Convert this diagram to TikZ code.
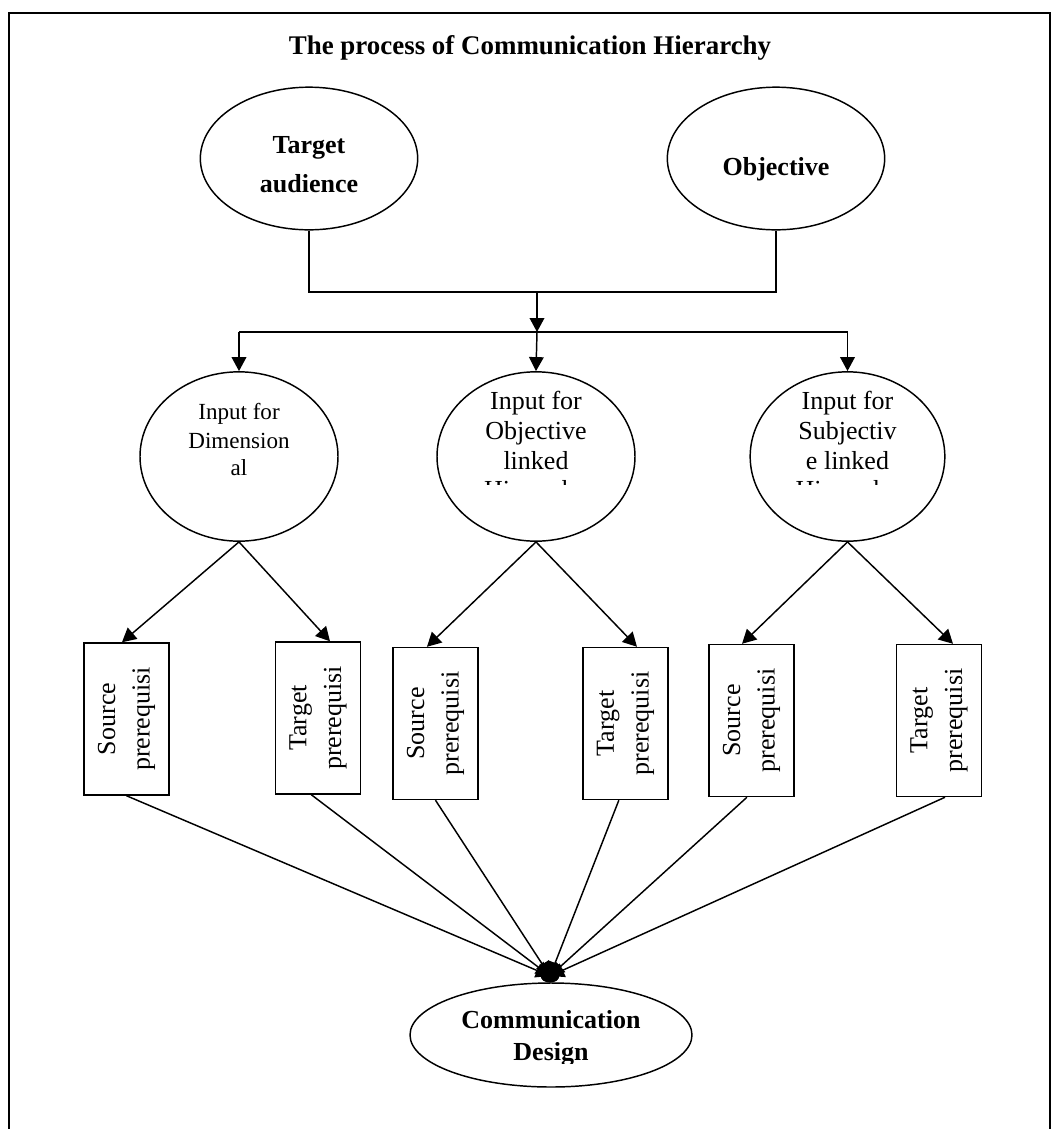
\documentclass[tikz,border=0pt]{standalone}
\usepackage{fontspec}
\setmainfont{Liberation Serif}
\usetikzlibrary{shapes.geometric,arrows.meta}
\begin{document}
\begin{tikzpicture}[x=0.75pt,y=-0.75pt,line width=1.1pt,
  arr/.style={-{Triangle[length=10.5pt,width=11pt]}},
  ellbox/.style={draw,ellipse,inner sep=0pt},
  topell/.style={ellbox,minimum width=163pt,minimum height=107pt},
  midell/.style={ellbox,minimum width=148.5pt,minimum height=127pt},
  prbox/.style={draw,rectangle,inner sep=0pt,minimum width=64pt,minimum height=114pt},
  big/.style={font=\fontsize{19.5}{22.5}\selectfont},
  bigb/.style={font=\fontsize{19.5}{24}\selectfont\bfseries},
  small/.style={font=\fontsize{17.3}{21}\selectfont},
  ln/.style={anchor=base,inner sep=0pt},
  rot/.style={font=\fontsize{19.5}{26}\selectfont,rotate=90,align=center,inner sep=0pt},
]
\useasboundingbox (0,0) rectangle (1059,1129);
% frame
\draw[line width=1.5pt] (9,1129) -- (9,13) -- (1050,13) -- (1050,1129);
% title
\node[font=\fontsize{20.2}{24}\selectfont\bfseries,ln] (title) at (530,54) {The process of Communication Hierarchy};
% top ellipses
\node[topell] (ta) at (309,158.5) {};
\node[topell] (ob) at (776,158.5) {};
\node[bigb,ln] (ta1) at (309,153) {Target};
\node[bigb,ln] (ta2) at (309,192) {audience};
\node[bigb,ln] (ob1) at (776,175) {Objective};
% junction
\coordinate (j1) at (537,292);
\coordinate (b2) at (537,332);
\draw (ta.south) |- (j1) -| (ob.south);
\draw[arr] (j1) -- (b2);
% middle ellipses
\node[midell] (in1) at (239,456.5) {};
\node[midell] (in2) at (536,456.5) {};
\node[midell,minimum width=146pt] (in3) at (847.5,456.5) {};
\coordinate (bl) at (in1.north |- b2);
\coordinate (br) at (in3.north |- b2);
\draw (bl) -- (br);
\draw[arr] (bl) -- (in1.north);
\draw[arr] (b2) -- (in2.north);
\draw[arr] (br) -- (in3.north);
% texts in middle ellipses
\node[small,ln] (t11) at (239,419) {Input for};
\node[small,ln] (t12) at (239,448) {Dimension};
\node[small,ln] (t13) at (239,475) {al};
\begin{scope}
\clip (420,380) rectangle (960,484);
\node[big,ln] (t21) at (536,409) {Input for};
\node[big,ln] (t22) at (536,439) {Objective};
\node[big,ln] (t23) at (536,469) {linked};
\node[big,ln] (t24) at (536,498) {Hierarchy};
\node[big,ln] (t31) at (847.5,409) {Input for};
\node[big,ln] (t32) at (847.5,439) {Subjectiv};
\node[big,ln] (t33) at (847.5,469) {e linked};
\node[big,ln] (t34) at (847.5,498) {Hierarchy};
\end{scope}
% rectangles
\node[prbox] (r1) at (126.5,719) {};
\node[prbox] (r2) at (318,718) {};
\node[prbox] (r3) at (435.5,723.5) {};
\node[prbox] (r4) at (625.5,723.5) {};
\node[prbox] (r5) at (751.5,720.5) {};
\node[prbox] (r6) at (939,720.5) {};
\node[rot] (s1) at (r1) {Source\\prerequisi};
\node[rot] (s2) at (r2) {Target\\prerequisi};
\node[rot] (s3) at (r3) {Source\\prerequisi};
\node[rot] (s4) at (r4) {Target\\prerequisi};
\node[rot] (s5) at (r5) {Source\\prerequisi};
\node[rot] (s6) at (r6) {Target\\prerequisi};
% arrows to rectangles
\draw[arr] (in1.south) -- ([xshift=-3.4pt]r1.north);
\draw[arr] (in1.south) -- ([xshift=9pt]r2.north);
\draw[arr] (in2.south) -- ([xshift=-6.4pt]r3.north);
\draw[arr] (in2.south) -- ([xshift=8.6pt]r4.north);
\draw[arr] (in3.south) -- ([xshift=-7.1pt]r5.north);
\draw[arr] (in3.south) -- ([xshift=10.5pt]r6.north);
% bottom ellipse
\node[ellbox,minimum width=211.5pt,minimum height=78pt] (cd) at (551,1035) {};
\coordinate (hub) at (550,976);
\draw[arr] (r1.south) -- (hub);
\draw[arr] ([xshift=-5pt]r2.south) -- (hub);
\draw[arr] (r3.south) -- (hub);
\draw[arr] ([xshift=-5pt]r4.south) -- (hub);
\draw[arr] ([xshift=-3.4pt]r5.south) -- (hub);
\draw[arr] ([xshift=4.5pt]r6.south) -- (hub);
\fill (hub) ellipse (7pt and 5pt);
\begin{scope}
\clip (400,990) rectangle (700,1063);
\node[bigb,ln] (cd1) at (551,1028) {Communication};
\node[bigb,ln] (cd2) at (551,1060) {Design};
\end{scope}
\end{tikzpicture}
\end{document}
